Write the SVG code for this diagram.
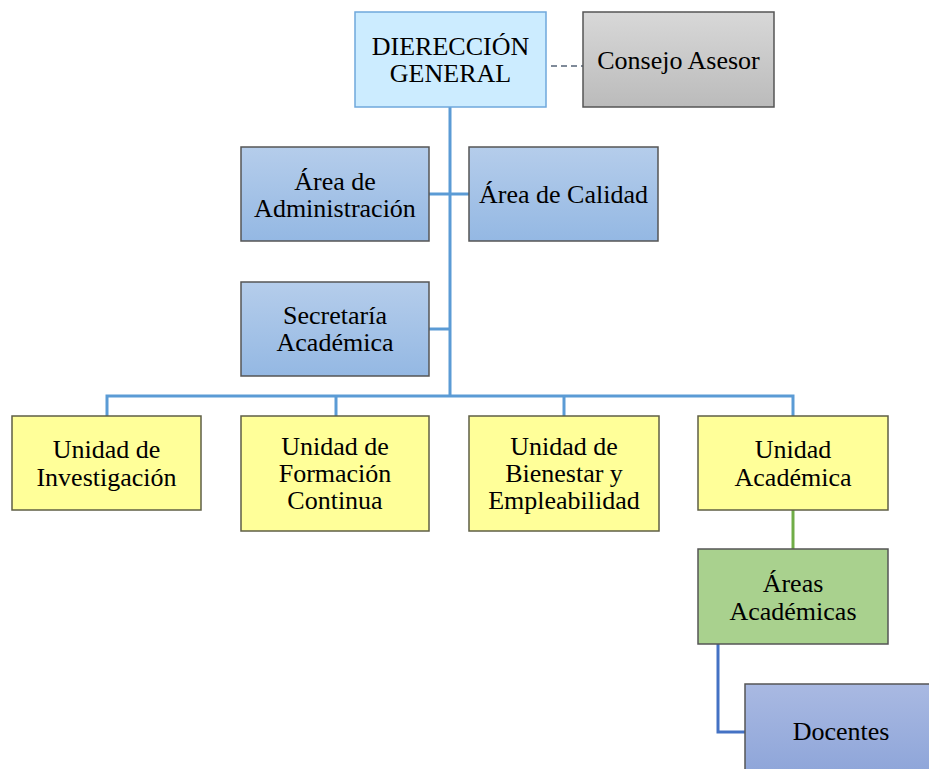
<svg xmlns="http://www.w3.org/2000/svg" width="929" height="769" viewBox="0 0 929 769">
<defs>
<linearGradient id="gBlue" x1="0" y1="0" x2="0" y2="1"><stop offset="0" stop-color="#B5CDEB"/><stop offset="1" stop-color="#94B8E3"/></linearGradient>
<linearGradient id="gGray" x1="0" y1="0" x2="0" y2="1"><stop offset="0" stop-color="#D8D8D8"/><stop offset="1" stop-color="#BBBBBB"/></linearGradient>
<linearGradient id="gDoc" x1="0" y1="0" x2="0" y2="1"><stop offset="0" stop-color="#A9B9E2"/><stop offset="1" stop-color="#8BA3D8"/></linearGradient>
<style>
text{font-family:"Liberation Serif","Times New Roman",serif;font-size:26px;fill:#000;text-anchor:middle}
.box{stroke:#5A5A4A;stroke-width:1.5}
.dg{fill:#CCECFF;stroke:#6FA8DC;stroke-width:1.5}
.blue{fill:url(#gBlue);stroke:#555;stroke-width:1.5}
.gray{fill:url(#gGray);stroke:#555;stroke-width:1.5}
.yel{fill:#FFFF99;stroke:#5F5F45;stroke-width:1.5}
.grn{fill:#A9D18E;stroke:#555;stroke-width:1.5}
.doc{fill:url(#gDoc);stroke:#555;stroke-width:1.5}
.c{fill:none;stroke:#5B9BD5;stroke-width:3}
</style>
</defs>
<rect width="929" height="769" fill="#fff"/>
<g id="connectors">
<line x1="551" y1="66" x2="583" y2="66" stroke="#7F8A99" stroke-width="2" stroke-dasharray="6,4"/>
<path class="c" d="M450 107 V396"/>
<path class="c" d="M429 194 H469"/>
<path class="c" d="M429 329 H450"/>
<path class="c" d="M107 416 V396 H793 V416"/>
<path class="c" d="M336 396 V416"/>
<path class="c" d="M564 396 V416"/>
<path d="M793 510 V549" fill="none" stroke="#70AD47" stroke-width="3"/>
<path d="M718 644 V732 H745" fill="none" stroke="#4472C4" stroke-width="3"/>
</g>
<g id="direccion"><rect class="dg" x="355" y="12" width="191" height="95"/><text x="450.5" y="55">DIERECCIÓN</text><text x="450.5" y="82">GENERAL</text></g>
<g id="consejo"><rect class="gray" x="583" y="12" width="191" height="95"/><text x="678.5" y="69">Consejo Asesor</text></g>
<g id="administracion"><rect class="blue" x="241" y="147" width="188" height="94"/><text x="335" y="190">Área de</text><text x="335" y="217">Administración</text></g>
<g id="calidad"><rect class="blue" x="469" y="147" width="189" height="94"/><text x="563.5" y="203">Área de Calidad</text></g>
<g id="secretaria"><rect class="blue" x="241" y="282" width="188" height="94"/><text x="335" y="324">Secretaría</text><text x="335" y="351">Académica</text></g>
<g id="investigacion"><rect class="yel" x="12" y="416" width="189" height="94"/><text x="106.5" y="458">Unidad de</text><text x="106.5" y="486">Investigación</text></g>
<g id="formacion"><rect class="yel" x="241" y="416" width="188" height="115"/><text x="335" y="455">Unidad de</text><text x="335" y="482">Formación</text><text x="335" y="509">Continua</text></g>
<g id="bienestar"><rect class="yel" x="469" y="416" width="190" height="115"/><text x="564" y="455">Unidad de</text><text x="564" y="482">Bienestar y</text><text x="564" y="509">Empleabilidad</text></g>
<g id="unidad-academica"><rect class="yel" x="698" y="416" width="190" height="94"/><text x="793" y="458">Unidad</text><text x="793" y="486">Académica</text></g>
<g id="areas-academicas"><rect class="grn" x="698" y="549" width="190" height="95"/><text x="793" y="592">Áreas</text><text x="793" y="620">Académicas</text></g>
<g id="docentes"><rect class="doc" x="745" y="684" width="195" height="100"/><text x="841" y="740">Docentes</text></g>
</svg>
